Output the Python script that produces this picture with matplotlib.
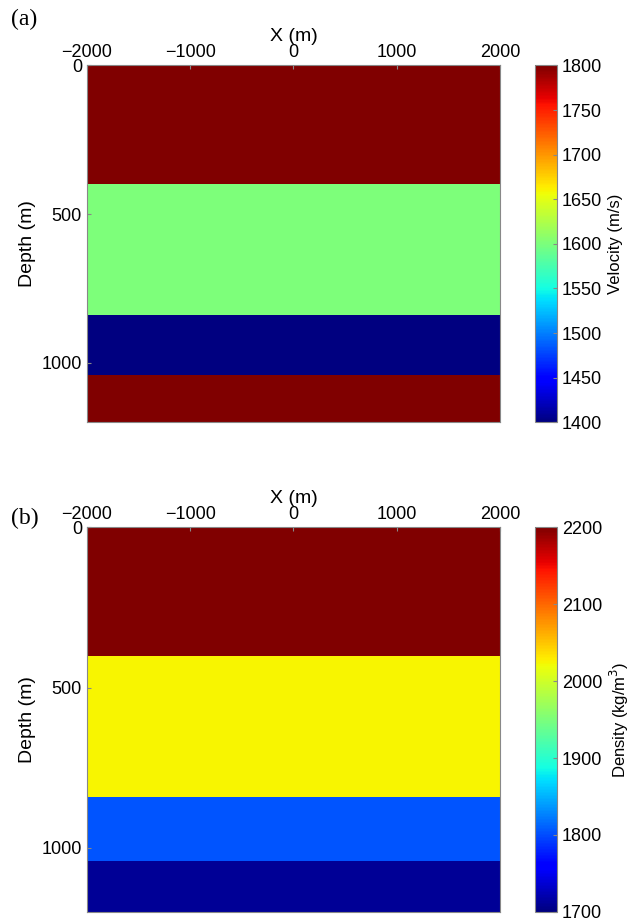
import matplotlib
matplotlib.use("Agg")
import matplotlib.pyplot as plt
import numpy as np

plt.rcParams["font.family"] = ["Liberation Sans", "DejaVu Sans"]
plt.rcParams["font.size"] = 13

# layer boundaries (m) and properties
layer_tops = [0, 400, 840, 1040]
layer_bots = [400, 840, 1040, 1200]
velocity = [1800, 1600, 1400, 1800]
density = [2200, 2025, 1805, 1710]
x_range = [-2000, 2000]

fig = plt.figure(figsize=(6.38, 9.22), dpi=100)


def panel(rect, cbrect, values, vmin, vmax, cticks, clabel, tag, tagy):
    ax = fig.add_axes(rect)
    edges = np.array(layer_tops + [layer_bots[-1]])
    grid = np.array(values).reshape(-1, 1)
    mesh = ax.pcolormesh(x_range, edges, grid, cmap="jet", vmin=vmin, vmax=vmax)
    ax.set_xlim(*x_range)
    ax.set_ylim(1200, 0)
    ax.xaxis.tick_top()
    ax.xaxis.set_label_position("top")
    ax.set_xticks([-2000, -1000, 0, 1000, 2000])
    ax.set_yticks([0, 500, 1000])
    ax.set_xlabel("X (m)", labelpad=2, fontsize=14)
    ax.set_ylabel("Depth (m)", fontsize=14)
    ax.tick_params(direction="in", length=3, color="#888888")
    for s in ax.spines.values():
        s.set_color("#888888")
    cax = fig.add_axes(cbrect)
    cb = fig.colorbar(mesh, cax=cax, ticks=cticks)
    cb.set_label(clabel, fontsize=12)
    cb.outline.set_edgecolor("#888888")
    cax.tick_params(direction="in", length=3, color="#888888")
    fig.text(0.018, tagy, tag, family="Liberation Serif", fontsize=17)


panel([0.136, 0.542, 0.648, 0.387], [0.8386, 0.542, 0.0345, 0.387],
      velocity, 1400, 1800, list(range(1400, 1801, 50)), "Velocity (m/s)",
      "(a)", 0.973)
panel([0.136, 0.011, 0.648, 0.417], [0.8386, 0.011, 0.0345, 0.417],
      density, 1700, 2200, list(range(1700, 2201, 100)),
      "Density (kg/m$^3$)", "(b)", 0.432)

fig.savefig("out.png", dpi=100)
